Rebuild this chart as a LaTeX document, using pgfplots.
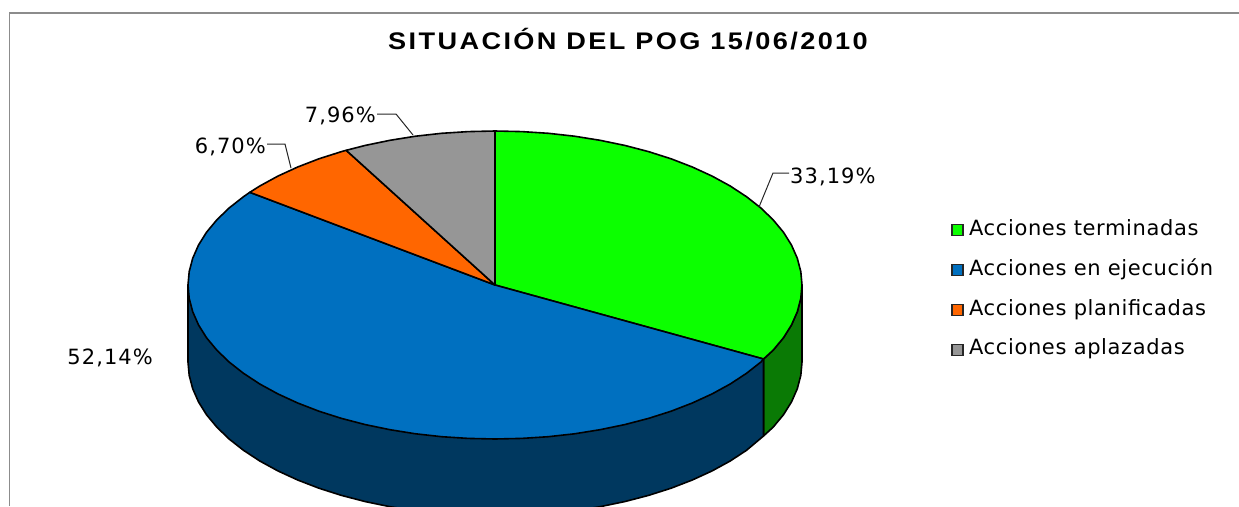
\documentclass[border=0pt]{standalone}
\usepackage{fontspec}
\setmainfont{Liberation Sans}
\newfontfamily\lab[LetterSpace=3]{DejaVu Sans}
\newfontfamily\num[LetterSpace=5]{DejaVu Sans}
\newfontfamily\ttl[LetterSpace=10,FakeStretch=1.13]{Liberation Sans}
\usepackage{pgfplots}
\pgfplotsset{compat=1.18}
\definecolor{cgreen}{HTML}{0CFF00}
\definecolor{cblue}{HTML}{0070C0}
\definecolor{corange}{HTML}{FF6600}
\definecolor{cgray}{HTML}{969696}
\definecolor{dgreen}{HTML}{0A7A05}
\definecolor{dblue}{HTML}{00385F}
\definecolor{frame}{HTML}{8C8C8C}
\pgfplotsset{sl/.style={draw=black,line width=1.6pt,line join=round,mark=none,forget plot}}
\begin{document}
\begin{tikzpicture}
\path[use as bounding box] (0,0) rectangle (1239pt,506pt);
\begin{axis}[
  at={(0,0)},anchor=south west,
  scale only axis,width=1239pt,height=506pt,
  xmin=0,xmax=1239,ymin=0,ymax=506,y dir=reverse,
  axis lines=none,
  legend cell align=left,
  legend style={at={(axis cs:951,220)},anchor=north west,draw=none,fill=none,
    inner sep=0pt,row sep=19.9pt,
    nodes={inner sep=0pt,text height=15pt,text depth=5pt,font=\lab\fontsize{21pt}{24pt}\selectfont}},
  legend image code/.code={\draw[#1,draw=black!85,line width=1.2pt] (0.5pt,-5.5pt) rectangle (11.5pt,5.5pt);\path (0pt,0pt) (17.5pt,0pt);},
]
% frame
\addplot[draw=frame,line width=1.3pt,forget plot] coordinates {(9.5,506) (9.5,13) (1239,13)};
% side walls
\addplot[sl,fill=dgreen] coordinates {(802,285) (802,362) (800.8,375.4) (797.3,388.7) (791.5,401.9) (783.5,414.7) (773.2,427.1) (763.5,436) (763.5,359) (773.2,350.1) (783.5,337.7) (791.5,324.9) (797.3,311.7) (800.8,298.4)} -- cycle;
\addplot[sl,fill=dblue] coordinates {(763.5,359) (763.5,436) (746.5,450.3) (730.2,461) (712.1,470.9) (692.3,480) (671.1,488.2) (648.5,495.4) (624.7,501.6) (600,506.7) (574.5,510.8) (548.3,513.7) (521.8,515.4) (495,516) (468.2,515.4) (441.7,513.7) (415.5,510.8) (390,506.7) (365.3,501.6) (341.5,495.4) (318.9,488.2) (297.7,480) (277.9,470.9) (259.8,461) (243.5,450.3) (229.1,439) (216.8,427.1) (206.5,414.7) (198.5,401.9) (192.7,388.7) (189.2,375.4) (188,362) (188,285)} -- cycle;
% top slices
\addplot[sl,fill=cgreen] coordinates {(495,285) (495,131) (521.8,131.6) (548.3,133.3) (574.5,136.2) (600,140.3) (624.7,145.4) (648.5,151.6) (671.1,158.8) (692.3,167) (712.1,176.1) (730.2,186) (746.5,196.7) (760.9,208) (773.2,219.9) (783.5,232.3) (791.5,245.1) (797.3,258.3) (800.8,271.6) (802,285) (800.8,298.4) (797.3,311.7) (791.5,324.9) (783.5,337.7) (773.2,350.1) (763.5,359)} -- cycle;
\addplot[sl,fill=cblue] coordinates {(495,285) (763.5,359) (760.9,362) (746.5,373.3) (730.2,384) (712.1,393.9) (692.3,403) (671.1,411.2) (648.5,418.4) (624.7,424.6) (600,429.7) (574.5,433.8) (548.3,436.7) (521.8,438.4) (495,439) (468.2,438.4) (441.7,436.7) (415.5,433.8) (390,429.7) (365.3,424.6) (341.5,418.4) (318.9,411.2) (297.7,403) (277.9,393.9) (259.8,384) (243.5,373.3) (229.1,362) (216.8,350.1) (206.5,337.7) (198.5,324.9) (192.7,311.7) (189.2,298.4) (188,285) (189.2,271.6) (192.7,258.3) (198.5,245.1) (206.5,232.3) (216.8,219.9) (229.1,208) (243.5,196.7) (249.8,192.3)} -- cycle;
\addplot[sl,fill=corange] coordinates {(495,285) (249.8,192.3) (259.8,186) (277.9,176.1) (297.7,167) (318.9,158.8) (341.5,151.6) (346.2,150.3)} -- cycle;
\addplot[sl,fill=cgray] coordinates {(495,285) (346.2,150.3) (365.3,145.4) (390,140.3) (415.5,136.2) (441.7,133.3) (468.2,131.6) (495,131)} -- cycle;
% leaders
\addplot[draw=black!85,line width=1pt,forget plot] coordinates {(759,207) (773,173) (789,173)};
\addplot[draw=black!85,line width=1pt,forget plot] coordinates {(413,135) (396,114) (377,114)};
\addplot[draw=black!85,line width=1pt,forget plot] coordinates {(291,168) (285,144) (267,144)};
% legend
\addlegendimage{fill=cgreen}\addlegendentry{Acciones terminadas}
\addlegendimage{fill=cblue}\addlegendentry{Acciones en ejecución}
\addlegendimage{fill=corange}\addlegendentry{Acciones planificadas}
\addlegendimage{fill=cgray}\addlegendentry{Acciones aplazadas}
% labels
\node[anchor=center,font=\ttl\bfseries\fontsize{24pt}{26pt}\selectfont] at (axis cs:628,39) {SITUACIÓN DEL POG 15/06/2010};
\node[anchor=west,inner sep=0pt,font=\num\fontsize{21pt}{24pt}\selectfont] at (axis cs:790,177) {33,19\%};
\node[anchor=east,inner sep=0pt,font=\num\fontsize{21pt}{24pt}\selectfont] at (axis cs:376,116) {7,96\%};
\node[anchor=east,inner sep=0pt,font=\num\fontsize{21pt}{24pt}\selectfont] at (axis cs:266,147) {6,70\%};
\node[anchor=east,inner sep=0pt,font=\num\fontsize{21pt}{24pt}\selectfont] at (axis cs:153,358) {52,14\%};
\end{axis}
\end{tikzpicture}
\end{document}
